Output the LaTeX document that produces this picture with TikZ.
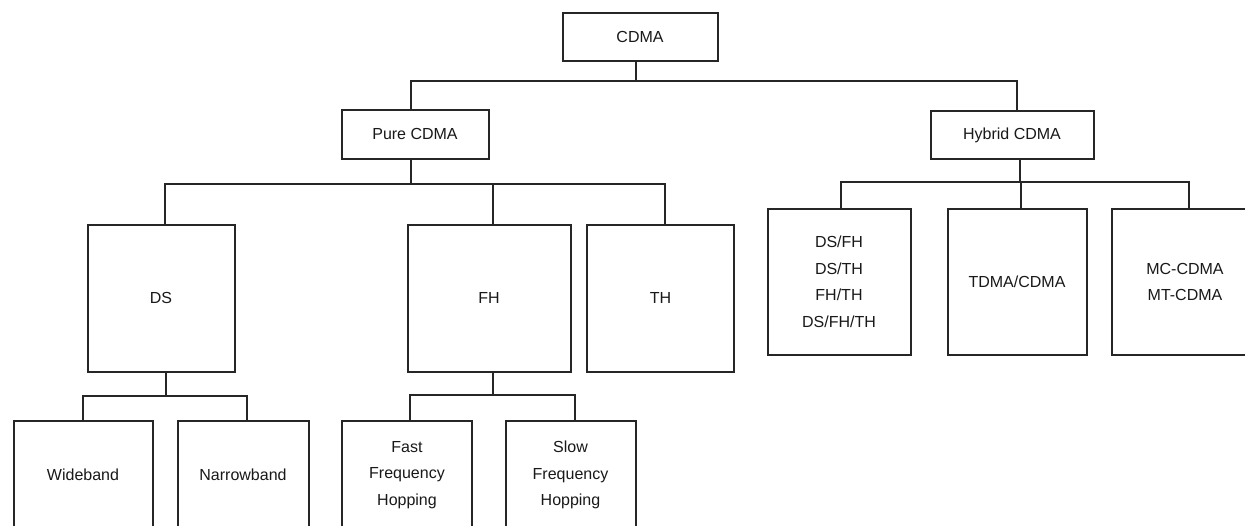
\documentclass[tikz,border=0pt]{standalone}
\usepackage{fontspec}
\setmainfont{Liberation Sans}
\begin{document}
\begin{tikzpicture}[x=1pt,y=-1pt,
  box/.style={draw=black!85, line width=2pt, inner sep=0pt, align=center,
    font=\fontsize{16}{26.5}\selectfont, text=black!90},
  conn/.style={draw=black!85, line width=2pt}]
\clip (0,0) rectangle (1245,525);
\fill[white] (0,0) rectangle (1245,525);
% level 0
\node[box, minimum width=155pt, minimum height=48pt] (cdma) at (640,36.5) {CDMA};
% level 1
\node[box, minimum width=147pt, minimum height=49pt] (pure) at (415,134) {Pure CDMA};
\node[box, minimum width=163pt, minimum height=48pt] (hybrid) at (1012,135) {Hybrid CDMA};
% level 2 (pure)
\node[box, minimum width=147pt, minimum height=147pt] (ds) at (161,298) {DS};
\node[box, minimum width=163pt, minimum height=147pt] (fh) at (489,298) {FH};
\node[box, minimum width=147pt, minimum height=147pt] (th) at (660.5,298) {TH};
% level 2 (hybrid)
\node[box, minimum width=143pt, minimum height=146pt] (dsfh) at (839,282) {DS/FH\\DS/TH\\FH/TH\\DS/FH/TH};
\node[box, minimum width=139pt, minimum height=146pt] (tdma) at (1017,282) {TDMA/CDMA};
\node[box, minimum width=147pt, minimum height=146pt] (mc) at (1185,282) {MC-CDMA\\MT-CDMA};
% level 3
\node[box, minimum width=139pt, minimum height=108pt] (wide) at (83,475) {Wideband};
\node[box, minimum width=131pt, minimum height=108pt] (narrow) at (243,475) {Narrowband};
\node[box, minimum width=130pt, minimum height=108pt] (fast) at (407,475) {Fast\\Frequency\\Hopping};
\node[box, minimum width=130pt, minimum height=108pt] (slow) at (570.5,475) {Slow\\Frequency\\Hopping};
% junctions
\coordinate (j0) at (636,81);
\coordinate (j1) at (411,184);
\coordinate (j2) at (1020,182);
\coordinate (j3) at (165.5,396);
\coordinate (j4) at (493,395);
% connectors
\draw[conn] ([xshift=-4pt]cdma.south) -- (j0);
\draw[conn] (j0) -| ([xshift=-4pt]pure.north);
\draw[conn] (j0) -| ([xshift=5pt]hybrid.north);
\draw[conn] ([xshift=-4pt]pure.south) -- (j1);
\draw[conn] (j1) -| ([xshift=4pt]ds.north);
\draw[conn] (j1) -| ([xshift=4pt]fh.north);
\draw[conn] (j1) -| ([xshift=4.5pt]th.north);
\draw[conn] ([xshift=8pt]hybrid.south) -- (j2);
\draw[conn] (j2) -| ([xshift=2pt]dsfh.north);
\draw[conn] (j2) -| ([xshift=4pt]tdma.north);
\draw[conn] (j2) -| ([xshift=4pt]mc.north);
\draw[conn] ([xshift=4.5pt]ds.south) -- (j3);
\draw[conn] (j3) -| (wide.north);
\draw[conn] (j3) -| ([xshift=4pt]narrow.north);
\draw[conn] ([xshift=4pt]fh.south) -- (j4);
\draw[conn] (j4) -| ([xshift=3pt]fast.north);
\draw[conn] (j4) -| ([xshift=4.5pt]slow.north);
\end{tikzpicture}
\end{document}
